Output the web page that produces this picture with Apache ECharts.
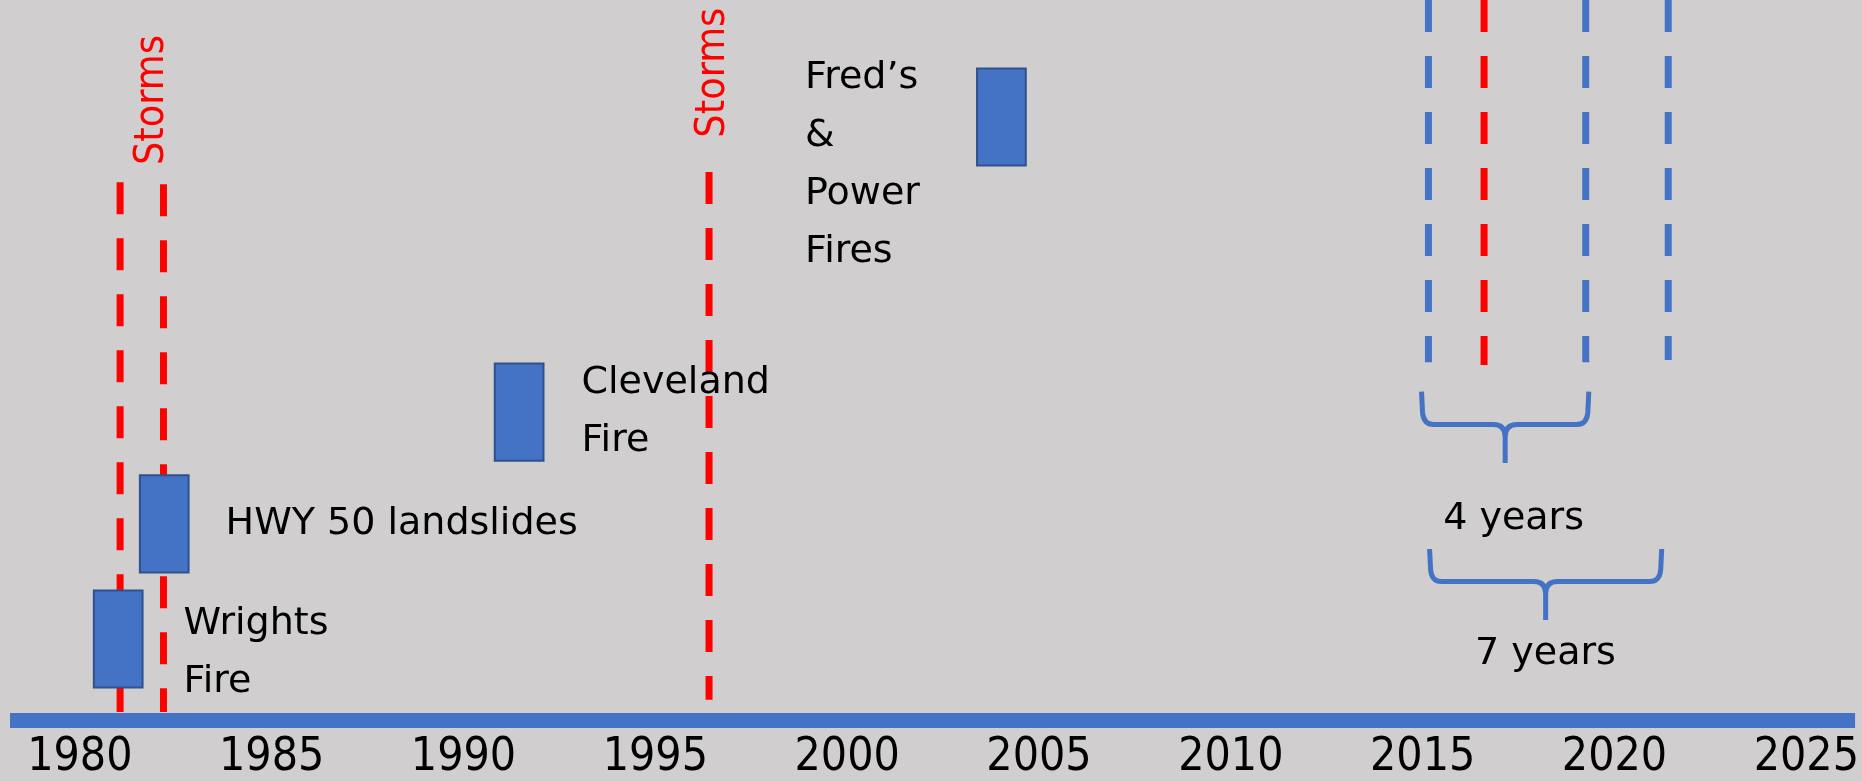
<!DOCTYPE html>
<html>
<head>
<meta charset="utf-8">
<script src="https://cdn.jsdelivr.net/npm/echarts@6/dist/echarts.min.js"></script>
<style>
  html, body { margin: 0; padding: 0; background: #D0CECE; }
  #chart-container { width: 1862px; height: 781px; }
</style>
</head>
<body>
<div id="chart-container"></div>
<script>
// tick labels on the time line
var years = [1980, 1985, 1990, 1995, 2000, 2005, 2010, 2015, 2020, 2025];

// events drawn as boxes (year, low level, high level)
var eventNames = ['Wrights\nFire', 'HWY 50 landslides', 'Cleveland\nFire', 'Fred\u2019s\n&\nPower\nFires'];
var eventYears = [1981.0, 1982.2, 1991.45, 2004.02];
var eventLow = [4.5, 20.5, 36, 77];
var eventHigh = [18, 34, 49.5, 90.5];

// red dashed storm lines
var stormYears = [1981.05, 1982.18, 1996.4, 2016.6];
var stormTop = [74.7, 74.4, 76.1, 100];
var stormBottom = [1.1, 1.1, 2.8, 49.3];

// blue dashed lines
var cycleYears = [2015.15, 2019.25, 2021.4];
var cycleTop = [100, 100, 100];
var cycleBottom = [49.7, 49.7, 50];

// "Storms" captions
var stormLabelYears = [1981.9, 1996.5];
var stormLabelLevels = [86.1, 89.9];

// braces
var braceLabels = ['4 years', '7 years'];
var braceFrom = [2014.97, 2015.18];
var braceTo = [2019.33, 2021.23];
var braceTop = [45.6, 23.75];
var braceTip = [35.7, 13.9];
var braceLabelYears = [2017.37, 2018.2];
var braceLabelLevels = [27.9, 9.2];

var narrowFont = "'Liberation Sans Narrow', 'DejaVu Sans Condensed', 'Arial Narrow', sans-serif";
var textFont = "'DejaVu Sans', Verdana, sans-serif";
var blue = '#4472C4';
var red = '#FF0000';

var dom = document.getElementById('chart-container');
var myChart = echarts.init(dom, null, { renderer: 'canvas' });

// where each event caption sits relative to its box
var noteOffsets = [
  { dx: 41, dy: 14, fromRight: true },
  { dx: 37, dy: 0, fromRight: true },
  { dx: 38, dy: 0, fromRight: true },
  { dx: -172, dy: 48, fromRight: false }
];
var boxWidth = 1.27;

var vlines = [];
for (var i = 0; i < stormYears.length; i++) vlines.push([stormYears[i], stormTop[i], stormBottom[i], 0]);
for (var j = 0; j < cycleYears.length; j++) vlines.push([cycleYears[j], cycleTop[j], cycleBottom[j], 1]);

var option = {
  backgroundColor: '#D0CECE',
  animation: false,
  grid: { left: 10, right: 0, top: 0, bottom: 61 },
  xAxis: {
    type: 'value',
    min: 1978.18,
    max: 2026.27,
    splitLine: { show: false },
    axisTick: { show: false },
    axisLine: { show: true, onZero: false, lineStyle: { color: blue, width: 15, cap: 'butt' } },
    axisLabel: {
      customValues: years,
      formatter: function (v) { return String(v); },
      color: '#000',
      fontSize: 46,
      lineHeight: 46,
      margin: 15,
      fontFamily: narrowFont
    }
  },
  yAxis: { type: 'value', min: 0, max: 100, show: false },
  series: [
    {
      // dashed vertical lines
      type: 'custom',
      z: 2,
      clip: false,
      data: vlines,
      renderItem: function (params, api) {
        var top = api.coord([api.value(0), api.value(1)]);
        var bot = api.coord([api.value(0), api.value(2)]);
        return {
          type: 'line',
          shape: { x1: top[0], y1: top[1], x2: bot[0], y2: bot[1] },
          style: { stroke: api.value(3) === 0 ? red : blue, lineWidth: 7, lineDash: [32, 24] }
        };
      }
    },
    {
      // event boxes with captions
      type: 'custom',
      z: 3,
      clip: false,
      data: eventYears.map(function (y, k) { return [y, eventLow[k], eventHigh[k]]; }),
      renderItem: function (params, api) {
        var k = params.dataIndex;
        var lo = api.coord([api.value(0), api.value(1)]);
        var hi = api.coord([api.value(0), api.value(2)]);
        var w = api.size([boxWidth, 0])[0];
        var left = lo[0] - w / 2;
        var off = noteOffsets[k];
        var tx = (off.fromRight ? left + w : left) + off.dx;
        var ty = (lo[1] + hi[1]) / 2 + off.dy;
        return {
          type: 'group',
          children: [
            {
              type: 'rect',
              shape: { x: left, y: hi[1], width: w, height: lo[1] - hi[1] },
              style: { fill: blue, stroke: '#2F528F', lineWidth: 2 }
            },
            {
              type: 'text',
              x: tx,
              y: ty,
              style: {
                text: eventNames[k],
                fill: '#000',
                fontSize: 38,
                fontFamily: textFont,
                lineHeight: 58,
                align: 'left',
                verticalAlign: 'middle'
              }
            }
          ]
        };
      }
    },
    {
      // "Storms" captions
      type: 'custom',
      z: 4,
      clip: false,
      data: stormLabelYears.map(function (y, k) { return [y, stormLabelLevels[k]]; }),
      renderItem: function (params, api) {
        var p = api.coord([api.value(0), api.value(1)]);
        return {
          type: 'text',
          x: p[0],
          y: p[1],
          rotation: Math.PI / 2,
          style: {
            text: 'Storms',
            fill: red,
            fontSize: 41,
            fontFamily: narrowFont,
            align: 'center',
            verticalAlign: 'middle'
          }
        };
      }
    },
    {
      // braces with captions
      type: 'custom',
      z: 4,
      clip: false,
      data: braceFrom.map(function (f, k) { return [f, braceTo[k], braceTop[k], braceTip[k], braceLabelYears[k], braceLabelLevels[k]]; }),
      renderItem: function (params, api) {
        var k = params.dataIndex;
        var a = api.coord([api.value(0), api.value(2)]);
        var b = api.coord([api.value(1), api.value(3)]);
        var L = a[0], T = a[1], R = b[0], P = b[1];
        var H = T + (P - T) * 0.46;
        var M = (L + R) / 2;
        var r = 12;
        var d = 'M' + L + ',' + T +
          ' L' + (L + 1) + ',' + (H - r) +
          ' Q' + (L + 2) + ',' + H + ' ' + (L + r) + ',' + H +
          ' L' + (M - r) + ',' + H +
          ' Q' + M + ',' + H + ' ' + M + ',' + (H + r) +
          ' L' + M + ',' + P +
          ' M' + R + ',' + T +
          ' L' + (R - 1) + ',' + (H - r) +
          ' Q' + (R - 2) + ',' + H + ' ' + (R - r) + ',' + H +
          ' L' + (M + r) + ',' + H +
          ' Q' + M + ',' + H + ' ' + M + ',' + (H + r);
        var lp = api.coord([api.value(4), api.value(5)]);
        return {
          type: 'group',
          children: [
            {
              type: 'path',
              shape: { pathData: d },
              style: { fill: null, stroke: blue, lineWidth: 5 }
            },
            {
              type: 'text',
              x: lp[0],
              y: lp[1],
              style: {
                text: braceLabels[k],
                fill: '#000',
                fontSize: 38,
                fontFamily: textFont,
                align: 'center',
                verticalAlign: 'middle'
              }
            }
          ]
        };
      }
    }
  ]
};

myChart.setOption(option);
window.addEventListener('resize', myChart.resize);
</script>
</body>
</html>
